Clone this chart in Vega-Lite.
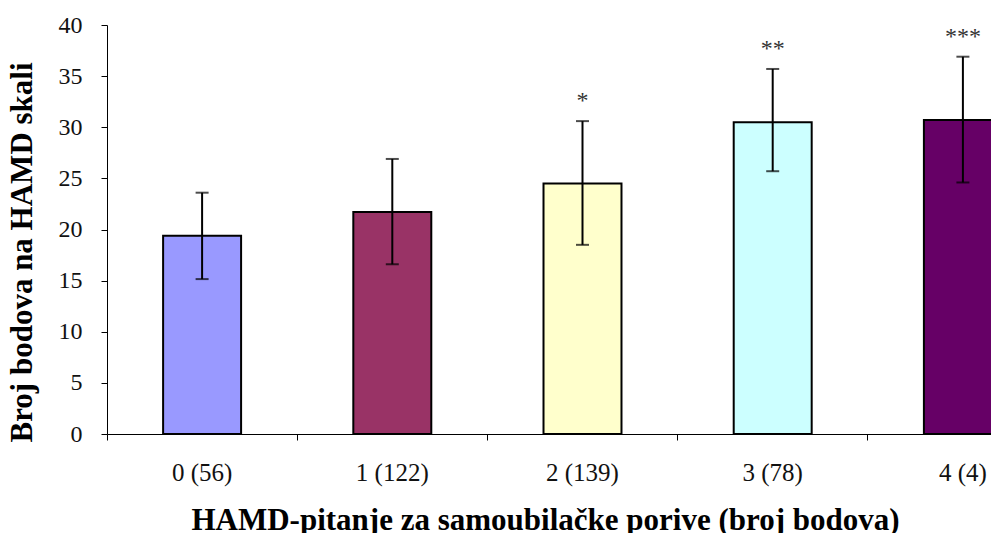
{
  "$schema": "https://vega.github.io/schema/vega-lite/v6.json",
  "autosize": {"type": "none"},
  "padding": {"left": 107, "top": 25, "right": 0, "bottom": 99},
  "width": 951,
  "height": 409,
  "background": "white",
  "config": {"view": {"stroke": null}, "font": "Liberation Serif"},
  "data": {"values": [
    {"cat": "0 (56)", "mean": 19.4, "lo": 15.15, "hi": 23.6, "sig": ""},
    {"cat": "1 (122)", "mean": 21.7, "lo": 16.6, "hi": 26.9, "sig": ""},
    {"cat": "2 (139)", "mean": 24.5, "lo": 18.5, "hi": 30.6, "sig": "*"},
    {"cat": "3 (78)", "mean": 30.5, "lo": 25.7, "hi": 35.7, "sig": "**"},
    {"cat": "4 (4)", "mean": 30.7, "lo": 24.6, "hi": 36.9, "sig": "***"}
  ]},
  "encoding": {
    "x": {"field": "cat", "type": "nominal", "sort": null,
      "scale": {"paddingInner": 0, "paddingOuter": 0},
      "axis": {"bandPosition": 0, "labelAngle": 0, "tickSize": 6, "tickColor": "#000", "tickWidth": 1,
        "domainColor": "#000", "domainWidth": 1,
        "labelFont": "Liberation Serif", "labelFontSize": 25, "labelColor": "#111", "labelPadding": 20,
        "title": "HAMD-pitanje za samoubilačke porive (broj bodova)",
        "titleFont": "Liberation Serif", "titleFontSize": 31, "titleFontWeight": "bold", "titleColor": "#000",
        "titleX": 438, "titleY": 86, "titleBaseline": "middle", "titleAlign": "center", "titleAnchor": null}}
  },
  "layer": [
    {
      "mark": {"type": "bar", "width": {"band": 0.41}, "stroke": "#000", "strokeWidth": 2},
      "encoding": {
        "y": {"field": "mean", "type": "quantitative",
          "scale": {"domain": [0, 40], "nice": false},
          "axis": {"values": [0, 5, 10, 15, 20, 25, 30, 35, 40], "grid": false, "tickSize": 6, "tickColor": "#000",
            "domainColor": "#000", "labelFont": "Liberation Serif", "labelFontSize": 24, "labelColor": "#111",
            "labelPadding": 19,
            "title": "Broj bodova na HAMD skali", "titleFont": "Liberation Serif", "titleFontSize": 31,
            "titleFontWeight": "bold", "titleColor": "#000", "titleX": -85, "titleY": 227,
            "titleBaseline": "middle", "titleAlign": "center", "titleAnchor": null}},
        "color": {"field": "cat", "type": "nominal", "sort": null, "legend": null,
          "scale": {"range": ["#9999FF", "#993366", "#FFFFCC", "#CCFFFF", "#660066"]}}
      }
    },
    {
      "mark": {"type": "rule", "color": "#000", "strokeWidth": 2},
      "encoding": {
        "y": {"field": "lo", "type": "quantitative"},
        "y2": {"field": "hi"}
      }
    },
    {
      "mark": {"type": "tick", "color": "#000", "size": 13, "thickness": 2, "orient": "horizontal"},
      "encoding": {"y": {"field": "lo", "type": "quantitative"}}
    },
    {
      "mark": {"type": "tick", "color": "#000", "size": 13, "thickness": 2, "orient": "horizontal"},
      "encoding": {"y": {"field": "hi", "type": "quantitative"}}
    },
    {
      "mark": {"type": "text", "font": "Liberation Serif", "fontSize": 24, "color": "#333", "dy": -20, "baseline": "middle"},
      "encoding": {"y": {"field": "hi", "type": "quantitative"}, "text": {"field": "sig"}}
    }
  ]
}
